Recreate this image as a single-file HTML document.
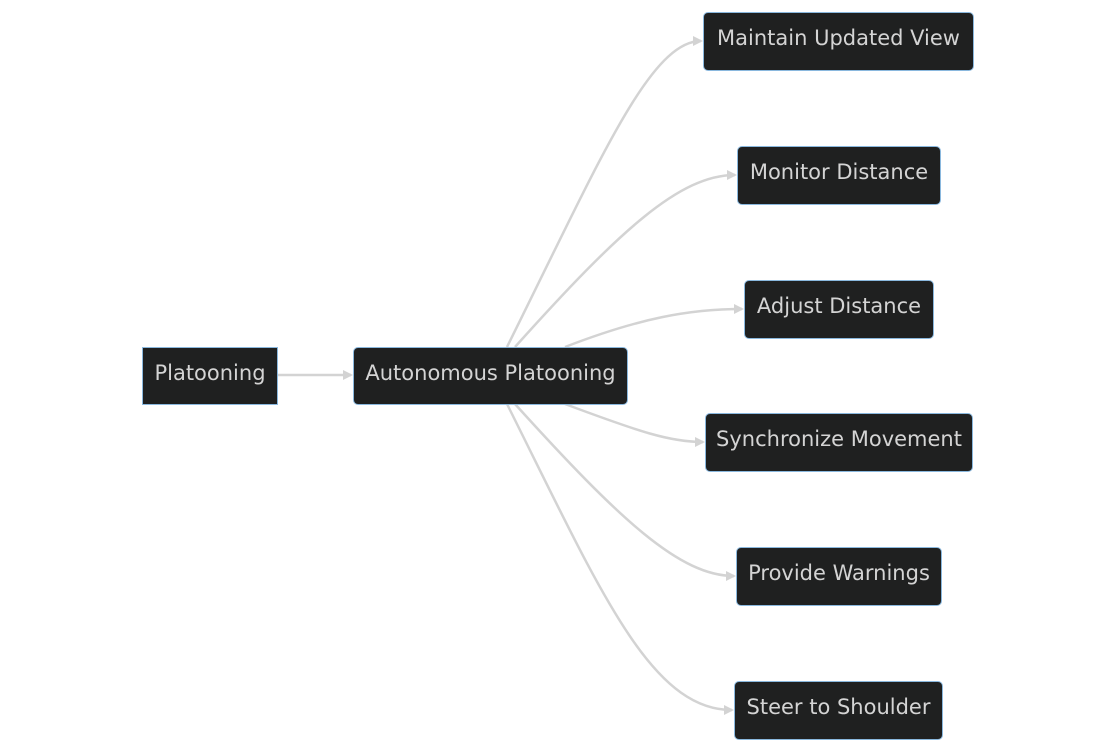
<!DOCTYPE html>
<html><head><style>
body{margin:0;background:#fff;width:1116px;height:751px;overflow:hidden;position:relative;font-family:"DejaVu Sans","Liberation Sans",sans-serif}
.n{position:absolute;box-sizing:border-box;background:#1f2020;border:1.5px solid #8ab8de;border-radius:5px;color:#d4d4d4;font-size:21px;display:flex;align-items:center;justify-content:center;white-space:nowrap;padding-bottom:7px}
svg{position:absolute;left:0;top:0}
</style></head><body>
<svg width="1116" height="751">
<defs><marker id="a" markerWidth="10" markerHeight="10" refX="8" refY="5" orient="auto" markerUnits="userSpaceOnUse"><path d="M0,0L10,5L0,10z" fill="#d3d3d3"/></marker></defs>
<g fill="none" stroke="#d3d3d3" stroke-width="2.5" marker-end="url(#a)">
<path d="M277,375L351,375"/>
<path d="M507,347C600,160 650,41 701,41"/>
<path d="M515,347C620,230 680,175 735,175"/>
<path d="M565,347C640,318 690,309 742,309"/>
<path d="M565,404C640,432 670,442 703,442"/>
<path d="M515,404C620,520 680,576 734,576"/>
<path d="M507,404C600,590 650,710 732,710"/>
</g></svg>
<div class="n" style="left:142px;top:347px;width:136px;height:58px;border-radius:0">Platooning</div>
<div class="n" style="left:353px;top:347px;width:275px;height:58px">Autonomous Platooning</div>
<div class="n" style="left:703px;top:12px;width:271px;height:59px">Maintain Updated View</div>
<div class="n" style="left:737px;top:146px;width:204px;height:59px">Monitor Distance</div>
<div class="n" style="left:744px;top:280px;width:190px;height:59px">Adjust Distance</div>
<div class="n" style="left:705px;top:413px;width:268px;height:59px">Synchronize Movement</div>
<div class="n" style="left:736px;top:547px;width:206px;height:59px">Provide Warnings</div>
<div class="n" style="left:734px;top:681px;width:209px;height:59px">Steer to Shoulder</div>
</body></html>
